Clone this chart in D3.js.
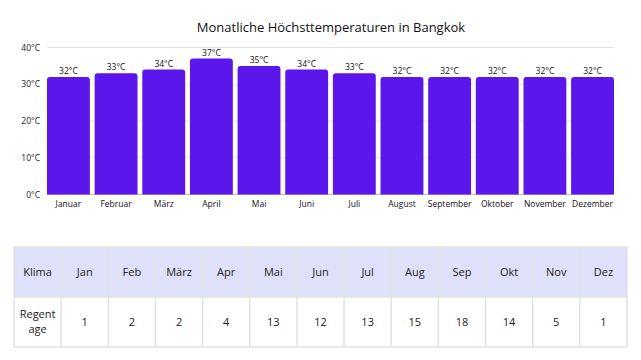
<!DOCTYPE html>
<html><head><meta charset="utf-8">
<script src="https://cdn.jsdelivr.net/npm/d3@7"></script>
<style>html,body{margin:0;padding:0;background:#fff;}svg{display:block;font-family:"Open Sans",sans-serif;}</style>
</head><body>
<script>
const months = ["Januar","Februar","März","April","Mai","Juni","Juli","August","September","Oktober","November","Dezember"];
const maxTemps = [32,33,34,37,35,34,33,32,32,32,32,32];
const yTicks = [0,10,20,30,40];
const tableHeader = ["Klima","Jan","Feb","März","Apr","Mai","Jun","Jul","Aug","Sep","Okt","Nov","Dez"];
const rowLabel = ["Regent","age"];
const rainDays = [1,2,2,4,13,12,13,15,18,14,5,1];

(function(){
const W = 641, H = 360;
const svg = d3.select("body").append("svg").attr("width", W).attr("height", H);

svg.append("text").attr("x", 331).attr("y", 32).attr("text-anchor","middle")
  .attr("font-size", 13).attr("fill","#111").text("Monatliche Höchsttemperaturen in Bangkok");

const x = d3.scaleBand().domain(months).range([47, 614]).paddingInner(0.1).paddingOuter(0);
const y = d3.scaleLinear().domain([0, 40]).range([194.5, 47.5]);

const g = svg.append("g");
g.selectAll("line.grid").data(yTicks).join("line").attr("class","grid")
  .attr("x1", 47).attr("x2", 614).attr("y1", d=>y(d)).attr("y2", d=>y(d))
  .attr("stroke", d=> d===0 ? "#bbb" : "#e2e2e2").attr("stroke-width", 1);

g.selectAll("text.yt").data(yTicks).join("text").attr("class","yt")
  .attr("x", 40).attr("y", d=>y(d)+3).attr("text-anchor","end").attr("font-size", 8.5).attr("fill","#222")
  .text(d=>d+"°C");

const r = 3;
g.selectAll("path.bar").data(maxTemps).join("path").attr("class","bar")
  .attr("fill","#5b17eb")
  .attr("d", (d,i)=>{
    const x0 = x(months[i]), w = x.bandwidth(), y0 = y(d), y1 = y(0);
    return `M${x0},${y1}V${y0+r}Q${x0},${y0} ${x0+r},${y0}H${x0+w-r}Q${x0+w},${y0} ${x0+w},${y0+r}V${y1}Z`;
  });

g.selectAll("text.val").data(maxTemps).join("text").attr("class","val")
  .attr("x",(d,i)=>x(months[i])+x.bandwidth()/2).attr("y", d=>y(d)-3)
  .attr("text-anchor","middle").attr("font-size", 8.5).attr("fill","#111").text(d=>d+"°C");

g.selectAll("text.xl").data(months).join("text").attr("class","xl")
  .attr("x", d=>x(d)+x.bandwidth()/2).attr("y", 207)
  .attr("text-anchor","middle").attr("font-size", 8.5).attr("fill","#111").text(d=>d);

// table
const tx = d3.scaleBand().domain(tableHeader).range([14, 627]);
const tTop = 247, tMid = 297, tBot = 347;
const tg = svg.append("g");
tg.append("rect").attr("x",14).attr("y",tTop).attr("width",613).attr("height",tMid-tTop).attr("fill","#dfe1fb");
const vx = tableHeader.map(d=>tx(d)).concat([627]);
tg.selectAll("line.v").data(vx).join("line").attr("class","v")
  .attr("x1",d=>d).attr("x2",d=>d)
  .attr("y1",tTop).attr("y2",tBot).attr("stroke","#e2e2e2").attr("stroke-width",1.5);
tg.selectAll("line.h").data([tTop,tMid,tBot]).join("line").attr("class","h")
  .attr("x1",14).attr("x2",627).attr("y1",d=>d).attr("y2",d=>d).attr("stroke","#e2e2e2").attr("stroke-width",1.5);
tg.selectAll("text.th").data(tableHeader).join("text").attr("class","th")
  .attr("x",d=>tx(d)+tx.bandwidth()/2).attr("y",(tTop+tMid)/2+4)
  .attr("text-anchor","middle").attr("font-size",11).attr("fill","#222").text(d=>d);
const cx0 = tx("Klima")+tx.bandwidth()/2;
const rl = tg.append("text").attr("x", cx0).attr("y", 318)
  .attr("text-anchor","middle").attr("font-size",11).attr("fill","#222");
rl.selectAll("tspan").data(rowLabel).join("tspan").attr("x", cx0)
  .attr("dy",(d,i)=> i===0 ? 0 : 15).text(d=>d);
tg.selectAll("text.td").data(rainDays).join("text").attr("class","td")
  .attr("x",(d,i)=>tx(tableHeader[i+1])+tx.bandwidth()/2).attr("y",(tMid+tBot)/2+4)
  .attr("text-anchor","middle").attr("font-size",11).attr("fill","#222").text(d=>d);
})();
</script>
</body></html>
